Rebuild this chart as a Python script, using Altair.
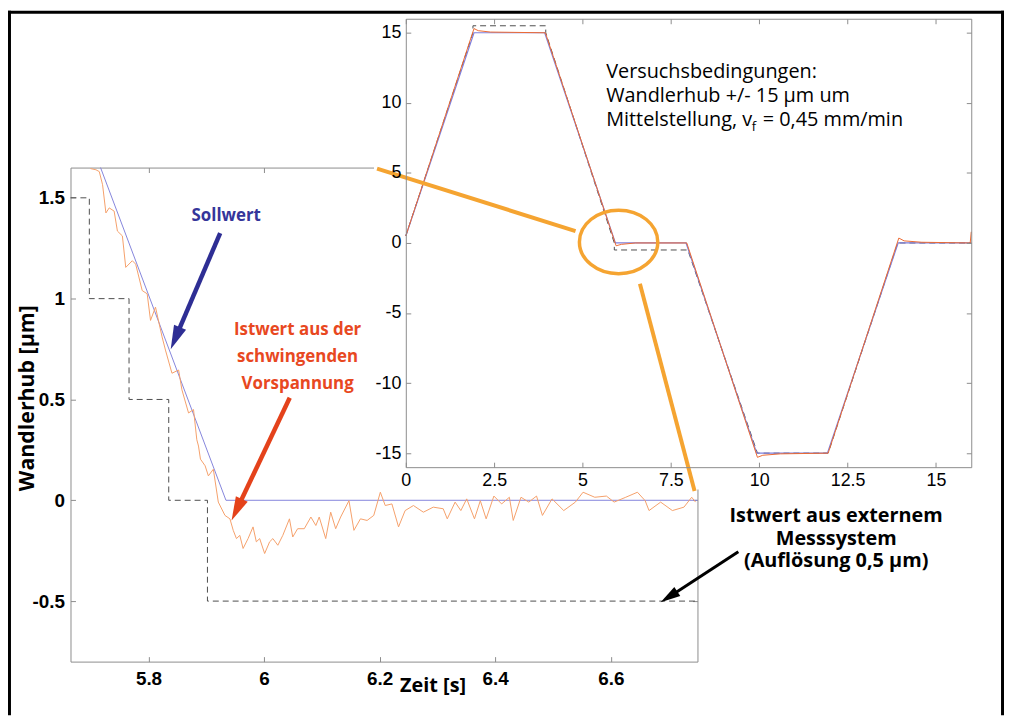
import altair as alt
import pandas as pd

# ---------------- data ----------------
# main panel: zoom into the return to the middle position (time in s, stroke in µm)
main_soll_t = [5.717, 5.934, 6.75]
main_soll_v = [1.65, 0.0, 0.0]

main_ext_t = [5.665, 5.6976, 5.7663, 5.835, 5.902, 6.75]
main_ext_v = [1.5, 1.0, 0.5, 0.0, -0.5, -0.5]

main_ist_t = [5.6995, 5.7091, 5.7148, 5.7205, 5.7263, 5.7320, 5.7405, 5.7462, 5.7548, 5.7606,
              5.7720, 5.7778, 5.7891, 5.7977, 5.8035, 5.8121, 5.8235, 5.8293, 5.8406, 5.8521,
              5.8578, 5.8693, 5.8779, 5.8836, 5.8865, 5.8899, 5.8980, 5.9036, 5.9122, 5.9208,
              5.9323, 5.9409, 5.9466, 5.9522, 5.9580, 5.9637, 5.9723, 5.9809, 5.9866, 5.9924,
              6.0010, 6.0096, 6.0152, 6.0238, 6.0324, 6.0439, 6.0496, 6.0581, 6.0696, 6.0810,
              6.0896, 6.0954, 6.1067, 6.1153, 6.1239, 6.1325, 6.1469, 6.1555, 6.1668, 6.1783,
              6.1898, 6.2012, 6.2097, 6.2212, 6.2327, 6.2441, 6.2585, 6.2757, 6.2928, 6.3100,
              6.3170, 6.3306, 6.3405, 6.3507, 6.3641, 6.3742, 6.3843, 6.3977, 6.4111, 6.4245,
              6.4312, 6.4446, 6.4581, 6.4715, 6.4817, 6.4983, 6.5186, 6.5387, 6.5520, 6.5723,
              6.5924, 6.6058, 6.6259, 6.6461, 6.6595, 6.6662, 6.6863, 6.7066, 6.7266, 6.7400,
              6.7467]
main_ist_v = [1.645, 1.639, 1.630, 1.565, 1.425, 1.450, 1.434, 1.335, 1.311, 1.155,
              1.188, 1.171, 1.040, 1.024, 0.892, 0.958, 0.810, 0.745, 0.630, 0.646,
              0.548, 0.433, 0.450, 0.300, 0.269, 0.204, 0.171, 0.121, 0.154, -0.009,
              -0.075, -0.092, -0.149, -0.190, -0.174, -0.239, -0.190, -0.132, -0.206, -0.190,
              -0.264, -0.206, -0.190, -0.223, -0.174, -0.092, -0.182, -0.141, -0.141, -0.083,
              -0.125, -0.083, -0.190, -0.059, -0.141, -0.083, -0.002, -0.149, -0.092, -0.100,
              -0.075, 0.040, -0.026, -0.018, -0.132, -0.051, -0.026, -0.059, -0.034, -0.042,
              -0.092, -0.009, -0.051, 0.007, -0.092, -0.002, -0.092, 0.021, -0.018, 0.015,
              -0.100, 0.015, -0.009, 0.021, -0.075, 0.007, -0.051, -0.009, 0.040, 0.015,
              0.021, -0.009, 0.015, 0.040, -0.002, -0.051, -0.009, -0.051, -0.034, 0.015,
              -0.009]

# inset: whole test run
ins_soll_t = [0, 1.93, 3.93, 5.93, 7.93, 9.93, 11.93, 13.93, 16]
ins_soll_v = [0.5, 15, 15, 0, 0, -15, -15, 0, 0]
ins_ist_t = [0, 1.93, 2.05, 2.4, 3.95, 5.95, 6.1, 6.5, 7.95, 9.95, 10.1, 10.6, 11.95, 13.95, 14.1, 14.6, 15.97, 16.0]
ins_ist_v = [0.5, 15.3, 15.15, 15.05, 15.0, -0.2, -0.1, 0.0, 0.0, -15.3, -15.15, -15.05, -15.0, 0.35, 0.15, 0.05, 0.0, 0.8]
ins_ext_t = [0, 1.9, 1.9, 3.96, 3.96, 5.9, 5.9, 7.98, 9.95, 11.95, 13.92, 16]
ins_ext_v = [0.5, 15.0, 15.5, 15.5, 15.0, 0.0, -0.5, -0.5, -15.0, -15.0, 0.0, 0.0]

main_xticks = [5.8, 6.0, 6.2, 6.4, 6.6]
main_yticks = [-0.5, 0.0, 0.5, 1.0, 1.5]
ins_xticks = [0, 2.5, 5, 7.5, 10, 12.5, 15]
ins_yticks = [-15, -10, -5, 0, 5, 10, 15]

# annotation texts
soll_lines = ["Sollwert"]
ist_lines = ["Istwert aus der", "schwingenden", "Vorspannung"]
ext_lines = ["Istwert aus externem", "Messsystem", "(Auflösung 0,5 µm)"]
cond_lines = ["Versuchsbedingungen:", "Wandlerhub +/- 15 µm um", "Mittelstellung, v"]

# annotation anchors (data units of the panel they belong to)
arrow_t1 = [5.924, 6.0444, 6.8207]
arrow_v1 = [1.325, 0.5086, -0.2554]
arrow_t2 = [5.8465, 5.9526, 6.7007]
arrow_v2 = [0.8038, -0.0468, -0.4792]
arrow_ang = [203.1, 205.5, 236.9]
arrow_col = ["#2e2e94", "#e4421b", "#000000"]
arrow_w = [4.5, 4.5, 3.0]
arrow_head = [576, 576, 400]

zoom_t1 = [6.1955, 6.6504]
zoom_v1 = [1.645, 1.074]
zoom_t2 = [6.539, 6.745]
zoom_v2 = [1.335, 0.046]

# ---------------- layout ----------------
W, H = 1004, 710
AXC = "#8c8c8c"
LF = "Liberation Sans"
TF = "Open Sans"


def M_X():
    return alt.Scale(domain=[5.665, 6.75], range=[63, 695], nice=False, zero=False)


def M_Y():
    return alt.Scale(domain=[-0.8, 1.65], range=[656, 158], nice=False, zero=False)


def I_X():
    return alt.Scale(domain=[0, 16], range=[401, 971], nice=False, zero=False)


def I_Y():
    return alt.Scale(domain=[-16, 16], range=[460, 8], nice=False, zero=False)


def axis(orient, offset, values, labels=False, ticks=False, domain=False, z=0, **kw):
    p = dict(orient=orient, offset=offset, values=values, labels=labels, ticks=ticks,
             tickSize=5 if ticks else 0, domain=domain, grid=False, title=None,
             domainColor=AXC, tickColor=AXC, domainWidth=1, tickWidth=1, zindex=z)
    p.update(kw)
    return alt.Axis(**p)


def lab(font, size, weight, pad):
    return dict(labelFont=font, labelFontSize=size, labelFontWeight=weight, labelColor="black",
                labelPadding=pad, labelExpr="'' + datum.value", labelFlush=False, labelOverlap=False)


def tv(ts, vs):
    return pd.DataFrame({"t": ts, "v": vs, "i": list(range(len(ts)))})


# ---------------- main panel ----------------
m_ext = alt.Chart(tv(main_ext_t, main_ext_v)).mark_line(
    interpolate="step-after", color="#4d4d4d", strokeWidth=1, strokeDash=[6, 4]
).encode(
    x=alt.X("t:Q", scale=M_X(), axis=axis(
        "bottom", 656 - H, main_xticks, labels=True, domain=True,
        title="Zeit [s]", titleX=428, titleY=24, titleAngle=0, titleAlign="center",
        titleBaseline="middle", titleFont=TF, titleFontSize=20, titleFontWeight="bold",
        titleColor="black", **lab(LF, 19, "bold", 8))),
    y=alt.Y("v:Q", scale=M_Y(), axis=axis(
        "left", -63, main_yticks, labels=True, domain=True,
        title="Wandlerhub [µm]", titleX=-43, titleY=390, titleAngle=270, titleAlign="center",
        titleBaseline="middle", titleFont=TF, titleFontSize=21.5, titleFontWeight="bold",
        titleColor="black", **lab(LF, 19, "bold", 6))),
    order="i:Q",
)

m_soll = alt.Chart(tv(main_soll_t, main_soll_v)).mark_line(color="#8585dc", strokeWidth=1).encode(
    x=alt.X("t:Q", scale=M_X(), axis=axis("top", -656, main_xticks, ticks=True)),
    y=alt.Y("v:Q", scale=M_Y(), axis=axis("right", 63 - W, main_yticks, ticks=True)),
    order="i:Q",
)

m_ist = alt.Chart(tv(main_ist_t, main_ist_v)).mark_line(color="#f5a06a", strokeWidth=1).encode(
    x=alt.X("t:Q", scale=M_X(), axis=axis("bottom", 158 - H, main_xticks, ticks=True, domain=True)),
    y=alt.Y("v:Q", scale=M_Y(), axis=axis("left", -695, main_yticks, ticks=True, domain=True)),
    order="i:Q",
)

arrows = pd.DataFrame({"t1": arrow_t1, "v1": arrow_v1, "t2": arrow_t2, "v2": arrow_v2,
                       "a": arrow_ang, "c": arrow_col, "w": arrow_w, "s": arrow_head})
m_shaft = alt.Chart(arrows).mark_rule().encode(
    x=alt.X("t1:Q", scale=M_X(), axis=None), x2="t2:Q",
    y=alt.Y("v1:Q", scale=M_Y(), axis=None), y2="v2:Q",
    color=alt.Color("c:N", scale=None), strokeWidth=alt.StrokeWidth("w:Q", scale=None),
)
m_head = alt.Chart(arrows).mark_point(shape="M0,-1L0.55,1L-0.55,1Z", filled=True, opacity=1).encode(
    x=alt.X("t2:Q", scale=M_X(), axis=None),
    y=alt.Y("v2:Q", scale=M_Y(), axis=None),
    color=alt.Color("c:N", scale=None), angle=alt.Angle("a:Q", scale=None),
    size=alt.Size("s:Q", scale=None),
)


def mtext(t, vs, lines, color, size, weight="bold", align="center"):
    df = pd.DataFrame({"t": [t] * len(lines), "v": vs, "txt": lines})
    return alt.Chart(df).mark_text(
        align=align, baseline="middle", font=TF, fontSize=size, fontWeight=weight, color=color
    ).encode(x=alt.X("t:Q", scale=M_X(), axis=None), y=alt.Y("v:Q", scale=M_Y(), axis=None),
             text="txt:N")


m_t1 = mtext(5.9345, [1.409], soll_lines, "#35359a", 17)
m_t2 = mtext(6.058, [0.843, 0.710, 0.5775], ist_lines, "#e8481f", 17)
m_t3 = mtext(6.990, [-0.0768, -0.19, -0.3031], ext_lines, "black", 20)

# ---------------- inset ----------------
i_bg = alt.Chart(pd.DataFrame({"x1": [-0.9], "x2": [16.2], "y1": [-17.6], "y2": [16.4]})).mark_rect(
    color="white", opacity=1
).encode(x=alt.X("x1:Q", scale=I_X(), axis=None), x2="x2:Q",
         y=alt.Y("y1:Q", scale=I_Y(), axis=None), y2="y2:Q")

i_ext = alt.Chart(tv(ins_ext_t, ins_ext_v)).mark_line(color="#4d4d4d", strokeWidth=1, strokeDash=[6, 4]).encode(
    x=alt.X("t:Q", scale=I_X(), axis=axis("bottom", 460 - H, ins_xticks, labels=True, domain=True, z=1,
                                          **lab(LF, 18, "normal", 4))),
    y=alt.Y("v:Q", scale=I_Y(), axis=axis("left", -401, ins_yticks, labels=True, domain=True, z=1,
                                          **lab(LF, 18, "normal", 5))),
    order="i:Q",
)
i_soll = alt.Chart(tv(ins_soll_t, ins_soll_v)).mark_line(color="#7f7fdc", strokeWidth=1.2).encode(
    x=alt.X("t:Q", scale=I_X(), axis=axis("top", -460, ins_xticks, ticks=True, z=1)),
    y=alt.Y("v:Q", scale=I_Y(), axis=axis("right", 401 - W, ins_yticks, ticks=True, z=1)),
    order="i:Q",
)
i_ist = alt.Chart(tv(ins_ist_t, ins_ist_v)).mark_line(color="#ec6a33", strokeWidth=1).encode(
    x=alt.X("t:Q", scale=I_X(), axis=axis("bottom", 8 - H, ins_xticks, ticks=True, domain=True, z=1)),
    y=alt.Y("v:Q", scale=I_Y(), axis=axis("left", -971, ins_yticks, ticks=True, domain=True, z=1)),
    order="i:Q",
)


def itext(x, ys, lines, size):
    df = pd.DataFrame({"x": [x] * len(lines), "y": ys, "txt": lines})
    return alt.Chart(df).mark_text(
        align="left", baseline="middle", font=TF, fontSize=size, color="black"
    ).encode(x=alt.X("x:Q", scale=I_X(), axis=None), y=alt.Y("y:Q", scale=I_Y(), axis=None),
             text="txt:N")


i_t1 = itext(5.67, [12.177, 10.478, 8.779], cond_lines, 20)
i_t3 = itext(9.79, [8.30], ["f"], 13)
i_t4 = itext(10.10, [8.779], ["= 0,45 mm/min"], 20)

i_ell = alt.Chart(pd.DataFrame({"x": [6.021], "y": [0.071]})).mark_point(
    shape="M-1,0A1,0.81,0,1,1,1,0A1,0.81,0,1,1,-1,0Z", size=6241, filled=False,
    stroke="#f5a431", strokeWidth=3.5, opacity=1
).encode(x=alt.X("x:Q", scale=I_X(), axis=None), y=alt.Y("y:Q", scale=I_Y(), axis=None))

zl = pd.DataFrame({"t1": zoom_t1, "v1": zoom_v1, "t2": zoom_t2, "v2": zoom_v2})
zoom_lines = alt.Chart(zl).mark_rule(color="#f5a431", strokeWidth=4).encode(
    x=alt.X("t1:Q", scale=M_X(), axis=None), x2="t2:Q",
    y=alt.Y("v1:Q", scale=M_Y(), axis=None), y2="v2:Q",
)

# outer frame (left, top, right)
fr_l = alt.Chart(pd.DataFrame({"k": [0]})).mark_rule(color="black", strokeWidth=3).encode(
    x=alt.value(1.5), y=alt.value(0), y2=alt.value(H))
fr_t = alt.Chart(pd.DataFrame({"k": [0]})).mark_rule(color="black", strokeWidth=3).encode(
    x=alt.value(0), x2=alt.value(W), y=alt.value(1.5))
fr_r = alt.Chart(pd.DataFrame({"k": [0]})).mark_rule(color="black", strokeWidth=3).encode(
    x=alt.value(W - 1.5), y=alt.value(0), y2=alt.value(H))

chart = alt.layer(
    m_ext, m_soll, m_ist, m_shaft, m_head, m_t1, m_t2, m_t3,
    i_bg, i_ext, i_soll, i_ist, i_t1, i_t3, i_t4, i_ell,
    zoom_lines, fr_l, fr_t, fr_r,
).resolve_scale(x="independent", y="independent").properties(
    width=W, height=H,
    autosize=alt.AutoSizeParams(type="none"),
    padding={"left": 0, "top": 0, "right": 0, "bottom": 0},
).configure(background="white").configure_view(stroke="transparent")

chart.save("out.html", embed_options={"renderer": "svg", "actions": False})
